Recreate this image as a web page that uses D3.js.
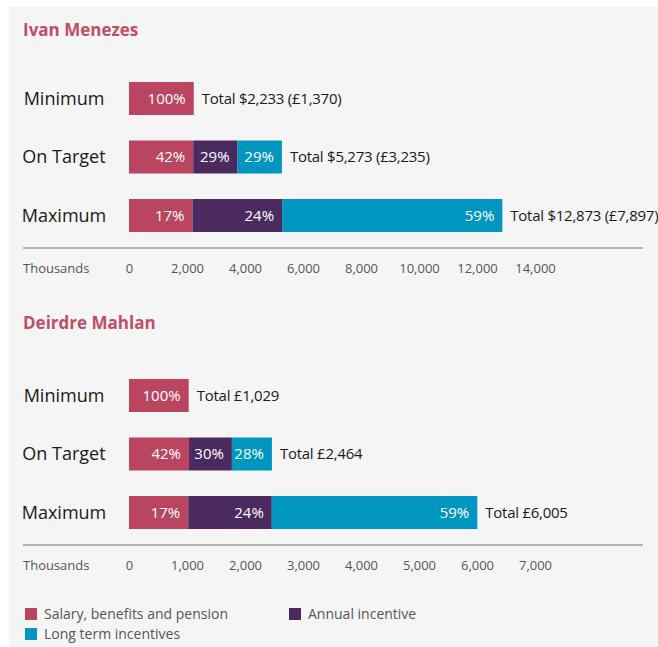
<!DOCTYPE html>
<html>
<head>
<meta charset="utf-8">
<script src="https://cdn.jsdelivr.net/npm/d3@7"></script>
<style>
  html, body { margin: 0; padding: 0; background: #ffffff; }
  svg { display: block; font-family: "Open Sans", "Noto Sans", sans-serif; }
</style>
</head>
<body>
<svg id="chart" width="658" height="647"></svg>
<script>
// Scenario rows and pay components
const scenarios = ["Minimum", "On Target", "Maximum"];
const components = ["Salary, benefits and pension", "Annual incentive", "Long term incentives"];
const componentColors = ["#b94560", "#4b2b5f", "#0096c0"];

// Ivan Menezes (values in thousands of US dollars)
const ivanTotals = [2233, 5273, 12873];
const ivanPercents = [[100, 0, 0], [42, 29, 29], [17, 24, 59]];
const ivanTotalLabels = ["Total $2,233 (£1,370)", "Total $5,273 (£3,235)", "Total $12,873 (£7,897)"];
const ivanTicks = [0, 2000, 4000, 6000, 8000, 10000, 12000, 14000];

// Deirdre Mahlan (values in thousands of pounds)
const deirdreTotals = [1029, 2464, 6005];
const deirdrePercents = [[100, 0, 0], [42, 30, 28], [17, 24, 59]];
const deirdreTotalLabels = ["Total £1,029", "Total £2,464", "Total £6,005"];
const deirdreTicks = [0, 1000, 2000, 3000, 4000, 5000, 6000, 7000];

const svg = d3.select("#chart");

// Panel background
svg.append("rect")
  .attr("x", 9).attr("y", 7)
  .attr("width", 649).attr("height", 640)
  .attr("fill", "#f5f5f5");

function drawPanel(opts) {
  const g = svg.append("g");

  g.append("text")
    .attr("x", 23).attr("y", opts.titleY)
    .attr("font-size", 17).attr("font-weight", 700)
    .attr("fill", "#c04d67")
    .text(opts.title);

  const x = d3.scaleLinear()
    .domain([0, d3.max(opts.ticks)])
    .range([129, 535]);

  const y = d3.scaleBand()
    .domain(scenarios)
    .range([opts.barTop, opts.barTop + 150])
    .paddingInner(0.436)
    .paddingOuter(0);

  // Stack each row from its total and component shares
  scenarios.forEach((s, i) => {
    const total = opts.totals[i];
    let acc = 0;
    const segs = opts.percents[i].map((p, k) => {
      const v = total * p / 100;
      const seg = { k, p, x0: acc, x1: acc + v };
      acc += v;
      return seg;
    }).filter(d => d.p > 0);

    const row = g.append("g");

    row.selectAll("rect")
      .data(segs)
      .join("rect")
      .attr("x", d => x(d.x0))
      .attr("y", y(s))
      .attr("width", d => x(d.x1) - x(d.x0))
      .attr("height", y.bandwidth())
      .attr("fill", d => componentColors[d.k]);

    row.selectAll("text.pct")
      .data(segs)
      .join("text")
      .attr("class", "pct")
      .attr("x", d => x(d.x1) - 8)
      .attr("y", y(s) + y.bandwidth() / 2)
      .attr("dy", "0.35em")
      .attr("text-anchor", "end")
      .attr("font-size", 15)
      .attr("fill", "#ffffff")
      .text(d => d.p + "%");

    row.append("text")
      .attr("x", x(total) + 8)
      .attr("y", y(s) + y.bandwidth() / 2)
      .attr("dy", "0.35em")
      .attr("font-size", 15)
      .attr("letter-spacing", -0.25)
      .attr("fill", "#1a1a1a")
      .text(opts.totalLabels[i]);

    row.append("text")
      .attr("x", 64)
      .attr("y", y(s) + y.bandwidth() / 2)
      .attr("dy", "0.35em")
      .attr("text-anchor", "middle")
      .attr("font-size", 18)
      .attr("fill", "#1a1a1a")
      .text(s);
  });

  // Baseline rule
  g.append("line")
    .attr("x1", 23).attr("x2", 643)
    .attr("y1", opts.axisY).attr("y2", opts.axisY)
    .attr("stroke", "#a39d9b").attr("stroke-width", 1.5);

  const axis = g.append("g")
    .attr("transform", `translate(0,${opts.axisY + 20})`)
    .call(d3.axisBottom(x).tickValues(opts.ticks).tickSize(0).tickPadding(0).tickFormat(d3.format(",")));
  axis.select(".domain").remove();
  axis.selectAll("text")
    .attr("dy", "0.35em")
    .attr("y", 0)
    .attr("font-size", 13)
    .attr("font-family", "Open Sans, Noto Sans, sans-serif")
    .attr("fill", "#555555");

  g.append("text")
    .attr("x", 23).attr("y", opts.axisY + 20)
    .attr("dy", "0.35em")
    .attr("font-size", 13)
    .attr("fill", "#555555")
    .text("Thousands");
}

drawPanel({
  title: "Ivan Menezes", titleY: 36, barTop: 82, axisY: 248,
  totals: ivanTotals, percents: ivanPercents,
  totalLabels: ivanTotalLabels, ticks: ivanTicks
});

drawPanel({
  title: "Deirdre Mahlan", titleY: 329, barTop: 379, axisY: 545,
  totals: deirdreTotals, percents: deirdrePercents,
  totalLabels: deirdreTotalLabels, ticks: deirdreTicks
});

// Legend
const legendPos = [[25, 608], [289, 608], [25, 628]];
const legend = svg.append("g")
  .selectAll("g")
  .data(components)
  .join("g")
  .attr("transform", (d, i) => `translate(${legendPos[i][0]},${legendPos[i][1]})`);

legend.append("rect")
  .attr("width", 12).attr("height", 12)
  .attr("fill", (d, i) => componentColors[i]);

legend.append("text")
  .attr("x", 19).attr("y", 6)
  .attr("dy", "0.35em")
  .attr("font-size", 14)
  .attr("fill", "#555555")
  .text(d => d);
</script>
</body>
</html>
